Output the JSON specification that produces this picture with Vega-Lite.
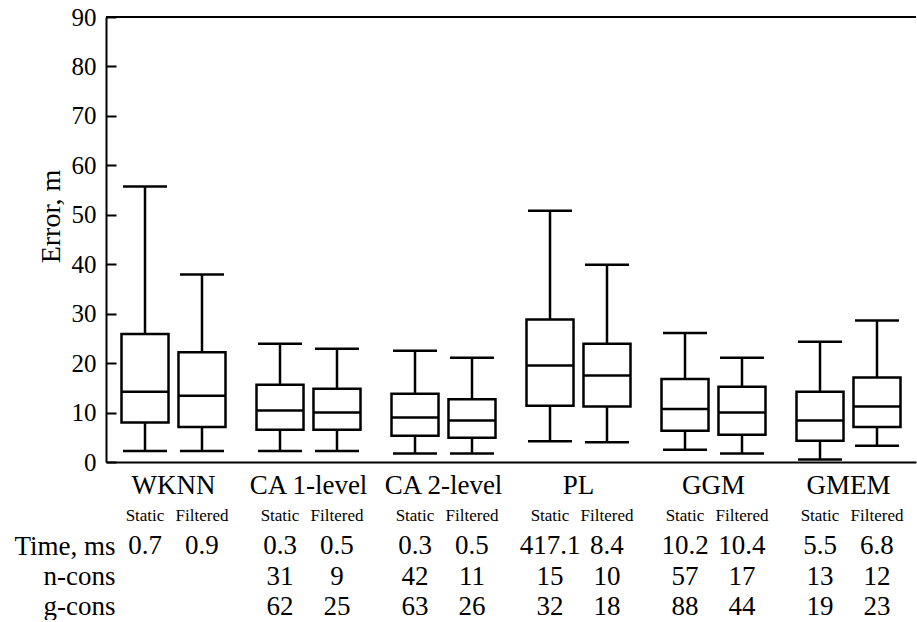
{
  "$schema": "https://vega.github.io/schema/vega-lite/v6.json",
  "background": "white",
  "padding": {"left": 13, "top": 5, "right": 0, "bottom": 0},
  "config": {
    "view": {"stroke": null},
    "font": "Liberation Serif, Times New Roman, serif",
    "axis": {"labelFont": "Liberation Serif, Times New Roman, serif", "titleFont": "Liberation Serif, Times New Roman, serif"},
    "text": {"font": "Liberation Serif, Times New Roman, serif"}
  },
  "spacing": 4,
  "datasets": {
    "boxes": [
      {"method": "WKNN", "type": "Static", "min": 2.2, "q1": 8.0, "median": 14.2, "q3": 25.9, "max": 55.7},
      {"method": "WKNN", "type": "Filtered", "min": 2.2, "q1": 7.1, "median": 13.4, "q3": 22.2, "max": 37.9},
      {"method": "CA 1-level", "type": "Static", "min": 2.2, "q1": 6.5, "median": 10.4, "q3": 15.6, "max": 23.9},
      {"method": "CA 1-level", "type": "Filtered", "min": 2.2, "q1": 6.5, "median": 10.0, "q3": 14.8, "max": 22.9},
      {"method": "CA 2-level", "type": "Static", "min": 1.7, "q1": 5.3, "median": 9.0, "q3": 13.8, "max": 22.5},
      {"method": "CA 2-level", "type": "Filtered", "min": 1.7, "q1": 4.9, "median": 8.4, "q3": 12.7, "max": 21.1},
      {"method": "PL", "type": "Static", "min": 4.2, "q1": 11.4, "median": 19.5, "q3": 28.8, "max": 50.8},
      {"method": "PL", "type": "Filtered", "min": 4.0, "q1": 11.2, "median": 17.5, "q3": 23.9, "max": 39.9},
      {"method": "GGM", "type": "Static", "min": 2.5, "q1": 6.3, "median": 10.7, "q3": 16.8, "max": 26.1},
      {"method": "GGM", "type": "Filtered", "min": 1.7, "q1": 5.5, "median": 10.0, "q3": 15.2, "max": 21.1},
      {"method": "GMEM", "type": "Static", "min": 0.5, "q1": 4.3, "median": 8.4, "q3": 14.2, "max": 24.3},
      {"method": "GMEM", "type": "Filtered", "min": 3.3, "q1": 7.1, "median": 11.2, "q3": 17.1, "max": 28.6}
    ],
    "table": [
      {"method": "WKNN", "type": "Static", "row": "type", "value": "Static"},
      {"method": "WKNN", "type": "Filtered", "row": "type", "value": "Filtered"},
      {"method": "CA 1-level", "type": "Static", "row": "type", "value": "Static"},
      {"method": "CA 1-level", "type": "Filtered", "row": "type", "value": "Filtered"},
      {"method": "CA 2-level", "type": "Static", "row": "type", "value": "Static"},
      {"method": "CA 2-level", "type": "Filtered", "row": "type", "value": "Filtered"},
      {"method": "PL", "type": "Static", "row": "type", "value": "Static"},
      {"method": "PL", "type": "Filtered", "row": "type", "value": "Filtered"},
      {"method": "GGM", "type": "Static", "row": "type", "value": "Static"},
      {"method": "GGM", "type": "Filtered", "row": "type", "value": "Filtered"},
      {"method": "GMEM", "type": "Static", "row": "type", "value": "Static"},
      {"method": "GMEM", "type": "Filtered", "row": "type", "value": "Filtered"},
      {"method": "WKNN", "type": "Static", "row": "Time, ms", "value": "0.7"},
      {"method": "WKNN", "type": "Filtered", "row": "Time, ms", "value": "0.9"},
      {"method": "CA 1-level", "type": "Static", "row": "Time, ms", "value": "0.3"},
      {"method": "CA 1-level", "type": "Filtered", "row": "Time, ms", "value": "0.5"},
      {"method": "CA 2-level", "type": "Static", "row": "Time, ms", "value": "0.3"},
      {"method": "CA 2-level", "type": "Filtered", "row": "Time, ms", "value": "0.5"},
      {"method": "PL", "type": "Static", "row": "Time, ms", "value": "417.1"},
      {"method": "PL", "type": "Filtered", "row": "Time, ms", "value": "8.4"},
      {"method": "GGM", "type": "Static", "row": "Time, ms", "value": "10.2"},
      {"method": "GGM", "type": "Filtered", "row": "Time, ms", "value": "10.4"},
      {"method": "GMEM", "type": "Static", "row": "Time, ms", "value": "5.5"},
      {"method": "GMEM", "type": "Filtered", "row": "Time, ms", "value": "6.8"},
      {"method": "CA 1-level", "type": "Static", "row": "n-cons", "value": "31"},
      {"method": "CA 1-level", "type": "Filtered", "row": "n-cons", "value": "9"},
      {"method": "CA 2-level", "type": "Static", "row": "n-cons", "value": "42"},
      {"method": "CA 2-level", "type": "Filtered", "row": "n-cons", "value": "11"},
      {"method": "PL", "type": "Static", "row": "n-cons", "value": "15"},
      {"method": "PL", "type": "Filtered", "row": "n-cons", "value": "10"},
      {"method": "GGM", "type": "Static", "row": "n-cons", "value": "57"},
      {"method": "GGM", "type": "Filtered", "row": "n-cons", "value": "17"},
      {"method": "GMEM", "type": "Static", "row": "n-cons", "value": "13"},
      {"method": "GMEM", "type": "Filtered", "row": "n-cons", "value": "12"},
      {"method": "CA 1-level", "type": "Static", "row": "g-cons", "value": "62"},
      {"method": "CA 1-level", "type": "Filtered", "row": "g-cons", "value": "25"},
      {"method": "CA 2-level", "type": "Static", "row": "g-cons", "value": "63"},
      {"method": "CA 2-level", "type": "Filtered", "row": "g-cons", "value": "26"},
      {"method": "PL", "type": "Static", "row": "g-cons", "value": "32"},
      {"method": "PL", "type": "Filtered", "row": "g-cons", "value": "18"},
      {"method": "GGM", "type": "Static", "row": "g-cons", "value": "88"},
      {"method": "GGM", "type": "Filtered", "row": "g-cons", "value": "44"},
      {"method": "GMEM", "type": "Static", "row": "g-cons", "value": "19"},
      {"method": "GMEM", "type": "Filtered", "row": "g-cons", "value": "23"}
    ]
  },
  "vconcat": [
    {
      "width": 810,
      "height": 445,
      "data": {"name": "boxes"},
      "layer": [
        {
          "mark": {"type": "rule", "color": "black", "strokeWidth": 2.5},
          "encoding": {
            "x": {"field": "method", "type": "nominal", "sort": ["WKNN", "CA 1-level", "CA 2-level", "PL", "GGM", "GMEM"], "scale": {"paddingInner": 0, "paddingOuter": 0},
              "axis": {"title": null, "labelAngle": 0, "ticks": false, "labelFontSize": 27, "labelColor": "black", "labelPadding": 10, "domainWidth": 2, "domainColor": "black"}},
            "xOffset": {"field": "type", "type": "nominal", "sort": ["Static", "Filtered"], "scale": {"paddingInner": 0.175, "paddingOuter": 0.272}},
            "y": {"field": "min", "type": "quantitative", "scale": {"domain": [0, 90], "nice": false},
              "axis": {"title": "Error, m", "titleFontSize": 28, "titleFontWeight": "normal", "titleColor": "black", "titlePadding": 6, "titleY": 199,
                "labelFontSize": 25, "labelColor": "black", "labelPadding": 20,
                "tickSize": -10, "tickWidth": 2, "tickColor": "black", "domainWidth": 2, "domainColor": "black", "grid": false,
                "values": [0, 10, 20, 30, 40, 50, 60, 70, 80, 90]}},
            "y2": {"field": "max"}
          }
        },
        {
          "mark": {"type": "bar", "fill": "white", "stroke": "black", "strokeWidth": 2.5},
          "encoding": {
            "x": {"field": "method", "type": "nominal", "sort": ["WKNN", "CA 1-level", "CA 2-level", "PL", "GGM", "GMEM"]},
            "xOffset": {"field": "type", "type": "nominal", "sort": ["Static", "Filtered"]},
            "y": {"field": "q1", "type": "quantitative"},
            "y2": {"field": "q3"}
          }
        },
        {
          "mark": {"type": "tick", "color": "black", "thickness": 2.5, "size": 47, "opacity": 1},
          "encoding": {
            "x": {"field": "method", "type": "nominal", "sort": ["WKNN", "CA 1-level", "CA 2-level", "PL", "GGM", "GMEM"]},
            "xOffset": {"field": "type", "type": "nominal", "sort": ["Static", "Filtered"]},
            "y": {"field": "median", "type": "quantitative"}
          }
        },
        {
          "mark": {"type": "tick", "color": "black", "thickness": 2.5, "size": 44, "opacity": 1},
          "encoding": {
            "x": {"field": "method", "type": "nominal", "sort": ["WKNN", "CA 1-level", "CA 2-level", "PL", "GGM", "GMEM"]},
            "xOffset": {"field": "type", "type": "nominal", "sort": ["Static", "Filtered"]},
            "y": {"field": "min", "type": "quantitative"}
          }
        },
        {
          "mark": {"type": "tick", "color": "black", "thickness": 2.5, "size": 44, "opacity": 1},
          "encoding": {
            "x": {"field": "method", "type": "nominal", "sort": ["WKNN", "CA 1-level", "CA 2-level", "PL", "GGM", "GMEM"]},
            "xOffset": {"field": "type", "type": "nominal", "sort": ["Static", "Filtered"]},
            "y": {"field": "max", "type": "quantitative"}
          }
        },
        {
          "data": {"values": [{}]},
          "mark": {"type": "rule", "color": "black", "strokeWidth": 2},
          "encoding": {"y": {"datum": 90, "type": "quantitative"}}
        }
      ]
    },
    {
      "width": 810,
      "height": 109,
      "data": {"name": "table"},
      "mark": {"type": "text", "color": "black", "baseline": "middle", "align": "center"},
      "encoding": {
        "x": {"field": "method", "type": "nominal", "sort": ["WKNN", "CA 1-level", "CA 2-level", "PL", "GGM", "GMEM"], "scale": {"paddingInner": 0, "paddingOuter": 0}, "axis": null},
        "xOffset": {"field": "type", "type": "nominal", "sort": ["Static", "Filtered"], "scale": {"paddingInner": 0.175, "paddingOuter": 0.272}},
        "y": {"field": "row", "type": "nominal", "sort": ["type", "Time, ms", "n-cons", "g-cons"], "scale": {"type": "point", "padding": 0.3},
          "axis": {"title": null, "domain": false, "ticks": false, "labelFontSize": 27, "labelColor": "black", "labelPadding": -9,
            "labelExpr": "datum.value === 'type' ? '' : datum.value"}},
        "text": {"field": "value"},
        "size": {"condition": {"test": "datum.row === 'type'", "value": 17}, "value": 27}
      }
    }
  ]
}
